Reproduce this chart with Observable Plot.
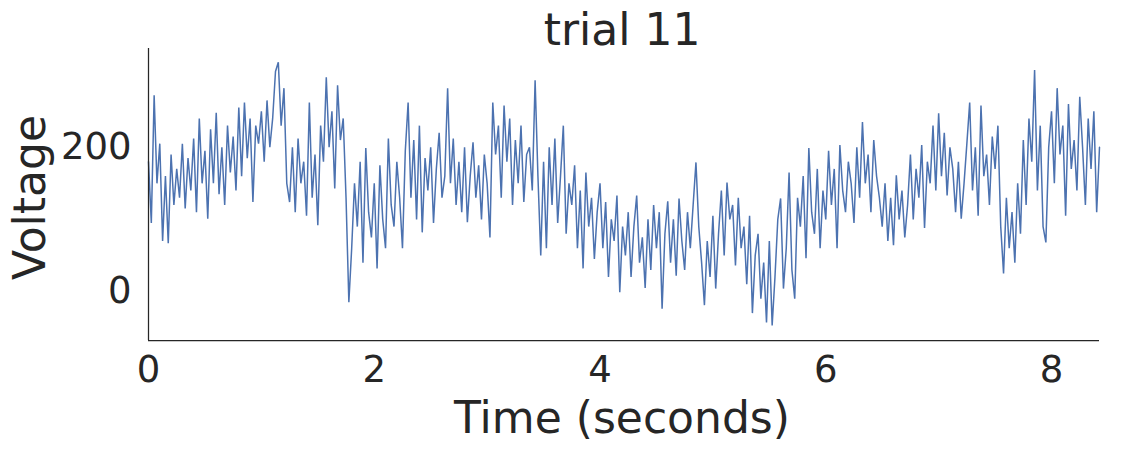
<!DOCTYPE html>
<html>
<head>
<meta charset="utf-8">
<script src="https://cdn.jsdelivr.net/npm/d3@7"></script>
<script src="https://cdn.jsdelivr.net/npm/@observablehq/plot@0.6"></script>
<style>
  html, body { margin: 0; padding: 0; background: #ffffff; }
  #chart { width: 1130px; height: 458px; }
</style>
</head>
<body>
<div id="chart"></div>
<script>
// ---- data ----
const titleText = "trial 11";
const xLabel = "Time (seconds)";
const yLabel = "Voltage";
const xTicks = [0, 2, 4, 6, 8];
const yTicks = [0, 200];
const sampleStep = 0.025; // seconds between samples
const voltage = [
  180, 95, 272, 150, 205, 70, 160, 67, 190, 120,
  170, 130, 205, 115, 185, 140, 212, 110, 240, 150,
  195, 101, 225, 150, 248, 135, 200, 120, 230, 165,
  215, 140, 255, 160, 262, 185, 240, 124, 230, 205,
  250, 180, 265, 200, 240, 305, 318, 230, 282, 150,
  124, 200, 110, 212, 150, 180, 105, 262, 130, 190,
  92, 230, 180, 297, 200, 250, 143, 286, 210, 240,
  130, -15, 60, 150, 90, 180, 40, 199, 110, 75,
  150, 32, 175, 100, 60, 212, 120, 90, 180, 130,
  60, 195, 262, 130, 210, 100, 230, 82, 185, 140,
  200, 95, 170, 220, 130, 160, 282, 150, 212, 120,
  180, 110, 200, 96, 160, 207, 130, 175, 100, 190,
  150, 75, 262, 190, 230, 130, 258, 180, 240, 120,
  210, 150, 230, 124, 190, 200, 140, 293, 160, 50,
  180, 60, 200, 120, 212, 95, 160, 230, 80, 150,
  120, 175, 60, 140, 32, 165, 90, 130, 45, 110,
  150, 60, 124, 20, 100, 70, 133, -1, 90, 50,
  110, 20, 90, 133, 40, 75, 5, 100, 30, 120,
  60, 110, -24, 80, 125, 40, 100, 22, 129, 70,
  30, 110, 60, 120, 179, 90, 40, -19, 70, 20,
  105, 4, 80, 140, 50, 151, 100, 120, 36, 130,
  60, 90, 10, 105, -30, 50, 80, -10, 40, -43,
  70, -47, 20, 100, 129, 4, 60, 165, 30, -10,
  130, 90, 160, 46, 199, 110, 80, 170, 60, 140,
  100, 195, 120, 170, 60, 203, 140, 110, 180, 150,
  95, 200, 130, 235, 150, 190, 110, 210, 160, 130,
  90, 150, 70, 130, 64, 161, 100, 140, 75, 120,
  190, 100, 170, 130, 203, 88, 180, 150, 230, 140,
  247, 160, 220, 133, 200, 170, 110, 180, 101, 150,
  205, 262, 140, 200, 105, 258, 160, 190, 120, 215,
  170, 230, 90, 25, 130, 60, 110, 40, 150, 80,
  210, 120, 240, 180, 307, 140, 230, 90, 68, 200,
  250, 150, 282, 190, 230, 105, 260, 170, 210, 140,
  270, 200, 120, 240, 170, 250, 110, 200
];

// sample times (uniform sampling)
const time = voltage.map((_, i) => i * sampleStep);
const series = voltage.map((v, i) => ({t: time[i], v}));

const xMax = d3.max(time);
const yDomain = [-68, 337];
const ink = "#262626";

const chart = Plot.plot({
  width: 1130,
  height: 458,
  marginLeft: 148,
  marginRight: 31,
  marginTop: 48,
  marginBottom: 118,
  style: {fontFamily: "DejaVu Sans", fontSize: "37px", color: ink, background: "#ffffff"},
  x: {domain: [0, xMax], ticks: xTicks, tickSize: 0, tickPadding: 15, label: null},
  y: {domain: yDomain, ticks: yTicks, tickSize: 0, tickPadding: 17, label: null},
  marks: [
    Plot.line(series, {x: "t", y: "v", stroke: "#4C72B0", strokeWidth: 1.5, strokeLinejoin: "miter"}),
    Plot.ruleX([0], {stroke: ink, strokeWidth: 1.25}),
    Plot.ruleY([yDomain[0]], {stroke: ink, strokeWidth: 1.25}),
    Plot.text([titleText], {frameAnchor: "top", dx: -2, dy: -4, lineAnchor: "bottom", textAnchor: "middle", fontSize: 44, fill: ink, text: d => d}),
    Plot.text([xLabel], {frameAnchor: "bottom", dx: -2, dy: 92, lineAnchor: "bottom", textAnchor: "middle", fontSize: 44, fill: ink, text: d => d}),
    Plot.text([yLabel], {frameAnchor: "left", dx: -104, dy: 3, rotate: -90, lineAnchor: "bottom", textAnchor: "middle", fontSize: 44, fill: ink, text: d => d})
  ]
});
document.getElementById("chart").appendChild(chart);
</script>
</body>
</html>
